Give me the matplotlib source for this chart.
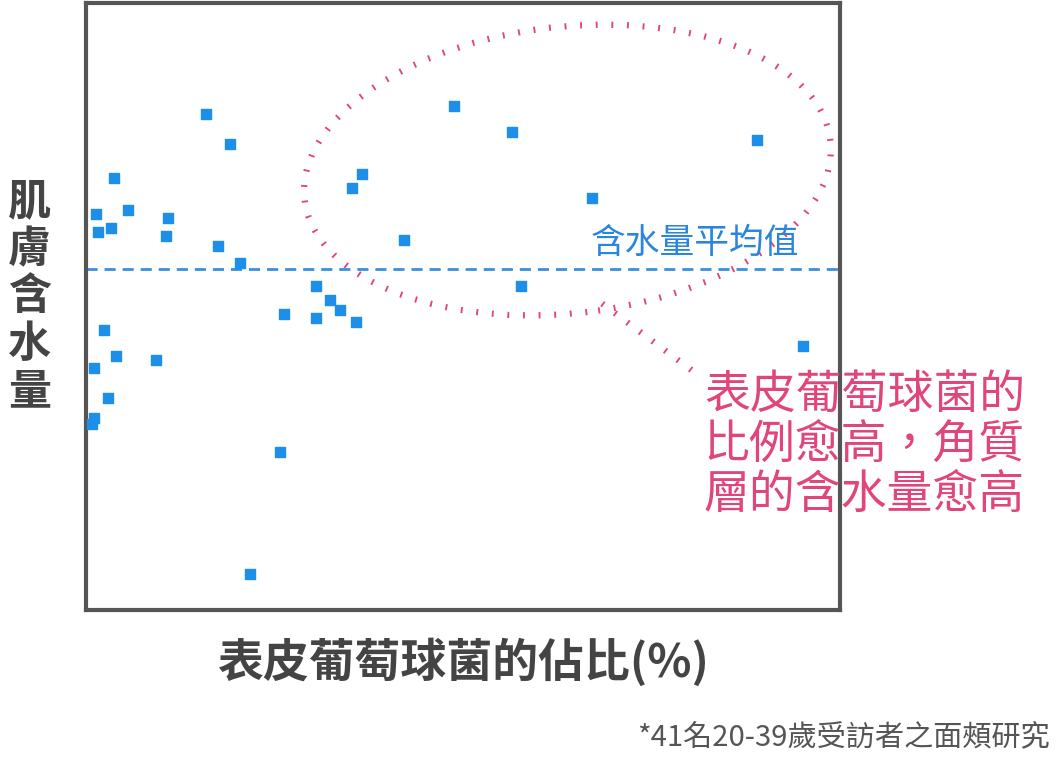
import matplotlib
matplotlib.use("Agg")
import matplotlib.pyplot as plt
from matplotlib.patches import Ellipse

plt.rcParams['font.family'] = ['Noto Sans CJK TC', 'DejaVu Sans']

staph_pct = [15.9,19.1,3.8,1.3,5.6,1.6,3.4,10.9,10.6,17.5,20.4,2.4,4.0,1.1,9.3,2.9,1.1,0.8,25.7,21.8,
             26.3,30.5,32.4,30.5,33.7,35.8,35.3,36.6,42.2,48.8,56.5,67.1,57.8,89.1,95.2]
moisture = [81.7,76.8,71.2,65.2,65.9,62.3,62.9,64.6,61.6,60.0,57.2,46.1,41.8,39.9,41.2,34.9,31.6,30.6,26.0,5.9,
            48.8,53.4,51.1,48.1,49.4,47.4,69.5,71.8,61.0,83.0,78.7,67.9,53.4,77.4,43.5]
mean_moisture = 56.2

fig = plt.figure(figsize=(10.6, 7.6), dpi=100)
ax = fig.add_axes([0.081, 0.197, 0.711, 0.799])
ax.set_xlim(0, 100); ax.set_ylim(0, 100)
ax.set_xticks([]); ax.set_yticks([])
for s in ax.spines.values():
    s.set_color('#555555'); s.set_linewidth(3)

ax.scatter(staph_pct, moisture, marker='s', s=50, color='#1e8fe8', zorder=3)
ax.axhline(mean_moisture, color='#3a8fe0', ls=(0, (4, 2.5)), lw=2)
ax.text(67, 57.5, '含水量平均值', color='#2a86dc', fontsize=25, ha='left', va='bottom')

ell = Ellipse((63.9, 72.5), 70.5, 47, angle=10, fill=False, ec='#e0457b', lw=4.5, ls=(0, (0.3, 2.2)))
ax.add_patch(ell)
ax.plot([68.5, 81.5], [50.5, 38.5], color='#e0457b', lw=4.5, ls=(0, (0.3, 2.2)), clip_on=False)

fig.text(0.664, 0.415, '表皮葡萄球菌的\n比例愈高，角質\n層的含水量愈高', color='#e0457b',
         fontsize=33, ha='left', va='center', linespacing=1.05)
fig.text(0.028, 0.61, '肌\n膚\n含\n水\n量', fontsize=31, fontweight='bold', color='#444444',
         ha='center', va='center', linespacing=1.1)
fig.text(0.437, 0.128, '表皮葡萄球菌的佔比(%)', fontsize=33, fontweight='bold', color='#444444',
         ha='center', va='center')
fig.text(0.99, 0.028, '*41名20-39歲受訪者之面頰研究', fontsize=21, color='#555555',
         ha='right', va='center')

fig.savefig('out.png', dpi=100)
